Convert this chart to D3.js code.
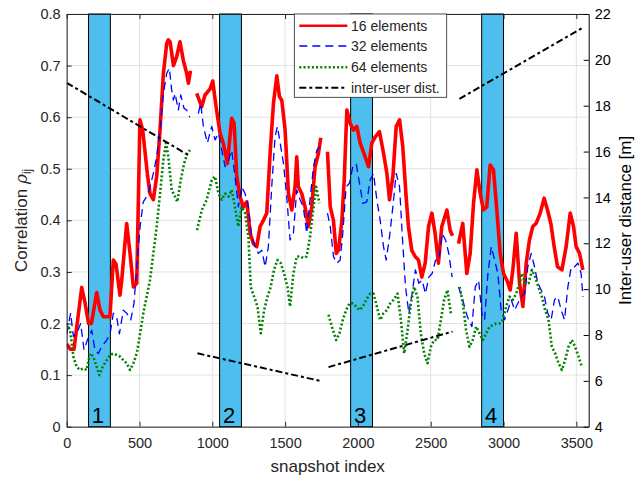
<!DOCTYPE html>
<html>
<head>
<meta charset="utf-8">
<script src="https://cdn.jsdelivr.net/npm/d3@7"></script>
<style>
  body { margin: 0; background: #fff; }
  svg { display: block; }
  text { font-family: "Liberation Sans", Arial, Helvetica, sans-serif; fill: #262626; }
</style>
</head>
<body>
<div id="vis"></div>
<script>
// snapshot ranges highlighted as bars, with their labels
const barRanges = [[150, 300], [1050, 1200], [1950, 2100], [2850, 3000]];
const barLabels = ["1", "2", "3", "4"];

// tick values
const xTicks = [0, 500, 1000, 1500, 2000, 2500, 3000, 3500];
const leftTicks = [0, 0.1, 0.2, 0.3, 0.4, 0.5, 0.6, 0.7, 0.8];
const rightTicks = [4, 6, 8, 10, 12, 14, 16, 18, 20, 22];

// correlation, 16 elements  [snapshot, rho]  (null = gap)
const rho16 = [
  [0,.16],[25,.15],[50,.15],[103,.27],[126,.24],[150,.20],[170,.20],[206,.26],[229,.226],[252,.213],
  [297,.213],[320,.323],[339,.315],[366,.255],[378,.284],[412,.394],[435,.336],[458,.271],[481,.278],
  [503,.595],[522,.575],[554,.49],[572,.452],[595,.44],[618,.485],[641,.575],[664,.685],[687,.743],
  [698,.75],[710,.746],[733,.70],[755,.717],[778,.746],[801,.71],[824,.685],[836,.666],[850,.69],
  null,
  [893,.646],[927,.62],[950,.643],[985,.655],[1003,.67],[1026,.62],[1053,.569],[1076,.549],[1104,.51],
  [1133,.598],[1150,.588],[1168,.485],[1190,.446],[1214,.426],[1237,.436],[1260,.375],[1282,.355],
  [1305,.349],[1328,.388],[1351,.40],[1374,.414],[1397,.53],[1420,.627],[1443,.68],[1461,.64],
  [1477,.633],[1500,.575],[1523,.452],[1546,.42],[1568,.465],[1580,.523],[1591,.465],[1614,.452],
  [1637,.426],[1660,.388],[1683,.426],[1706,.504],[1729,.53],[1745,.56],
  null,
  [1791,.533],[1810,.426],[1832,.40],[1851,.336],[1867,.342],[1890,.40],[1906,.478],[1924,.614],
  [1947,.588],[1970,.575],[1993,.582],[2015,.55],[2050,.523],[2073,.504],[2096,.55],[2119,.562],
  [2148,.572],[2176,.53],[2199,.491],[2217,.44],[2240,.485],[2263,.582],[2286,.595],[2308,.543],
  [2331,.446],[2347,.388],[2370,.342],[2393,.33],[2416,.323],[2439,.29],[2462,.317],[2485,.388],
  [2508,.414],[2530,.375],[2553,.317],[2576,.388],[2611,.42],[2634,.38],[2650,.37],
  null,
  [2691,.355],[2720,.394],[2748,.297],[2771,.336],[2794,.433],[2817,.498],[2840,.452],[2862,.42],
  [2885,.426],[2908,.507],[2931,.498],[2954,.42],[2977,.336],[3000,.297],[3023,.284],[3046,.265],
  [3064,.304],[3087,.375],[3110,.278],[3133,.233],[3156,.317],[3178,.362],[3201,.388],[3224,.394],
  [3252,.414],[3279,.443],[3302,.42],[3325,.394],[3348,.349],[3371,.31],[3401,.304],[3430,.349],
  [3458,.414],[3481,.388],[3499,.349],[3522,.336],[3545,.304]
];

// correlation, 32 elements
const rho32 = [
  [0,.18],[27,.22],[46,.175],[68,.18],[96,.20],[119,.149],[142,.168],[172,.187],[194,.149],[217,.142],
  [240,.155],[275,.168],[298,.18],[320,.22],[343,.213],[362,.18],[389,.226],[412,.22],[440,.207],
  [462,.239],[485,.323],[504,.388],[526,.436],[549,.446],[572,.465],[595,.491],[618,.523],[641,.575],
  [664,.646],[687,.685],[705,.695],[721,.653],[733,.633],[744,.646],[767,.614],[783,.643],[806,.617],
  [824,.614],[845,.60],
  null,
  [904,.607],[920,.627],[939,.582],[966,.55],[996,.582],[1019,.556],[1042,.569],[1065,.536],[1088,.504],
  [1111,.517],[1133,.536],[1156,.485],[1179,.426],[1202,.465],[1225,.452],[1248,.426],[1271,.368],
  [1294,.349],[1317,.336],[1340,.342],[1363,.31],[1385,.349],[1408,.465],[1431,.562],[1447,.582],
  [1466,.55],[1489,.51],[1511,.446],[1534,.362],[1557,.375],[1580,.459],[1603,.44],[1625,.426],
  [1648,.375],[1671,.44],[1695,.504],[1718,.536],[1740,.543],
  null,
  [1791,.414],[1810,.388],[1832,.33],[1855,.317],[1878,.323],[1896,.375],[1919,.465],[1942,.472],
  [1965,.504],[1988,.51],[2011,.472],[2034,.433],[2061,.436],[2084,.478],[2107,.491],[2130,.44],
  [2153,.40],[2176,.349],[2194,.323],[2217,.368],[2240,.426],[2263,.491],[2286,.465],[2308,.355],
  [2327,.271],[2350,.22],[2372,.258],[2395,.304],[2418,.278],[2441,.284],[2464,.258],[2487,.29],
  [2510,.297],[2533,.323],[2556,.323],[2579,.375],[2602,.362],[2624,.336],[2647,.29],
  null,
  [2691,.271],[2714,.252],[2737,.226],[2760,.207],[2783,.194],[2806,.271],[2829,.284],[2851,.22],
  [2870,.207],[2893,.297],[2916,.349],[2939,.323],[2961,.297],[2984,.226],[3007,.207],[3030,.226],
  [3053,.246],[3076,.226],[3098,.239],[3121,.252],[3145,.258],[3167,.31],[3190,.336],[3213,.31],
  [3236,.278],[3259,.265],[3281,.252],[3304,.22],[3327,.207],[3350,.246],[3373,.252],[3396,.226],
  [3419,.207],[3442,.271],[3465,.31],[3488,.31],[3511,.317],[3533,.297],[3545,.252]
];

// correlation, 64 elements
const rho64 = [
  [0,.20],[23,.187],[46,.136],[68,.116],[91,.11],[114,.113],[137,.11],[160,.142],[183,.136],[206,.116],
  [224,.10],[247,.116],[275,.129],[298,.139],[320,.142],[343,.139],[366,.136],[389,.129],[412,.123],
  [435,.11],[458,.123],[481,.142],[504,.18],[526,.22],[549,.252],[572,.284],[595,.336],[618,.388],
  [641,.452],[664,.517],[682,.55],[698,.523],[721,.459],[744,.446],[760,.436],[783,.478],[806,.51],
  [829,.53],[847,.536],
  null,
  [895,.381],[928,.42],[962,.44],[996,.478],[1019,.485],[1042,.452],[1065,.44],[1088,.452],[1111,.446],
  [1133,.459],[1156,.426],[1179,.388],[1202,.426],[1225,.414],[1248,.368],[1264,.271],[1287,.252],
  [1310,.233],[1333,.181],[1356,.226],[1379,.252],[1401,.271],[1424,.304],[1447,.323],[1470,.317],
  [1493,.297],[1516,.271],[1534,.233],[1557,.297],[1580,.33],[1603,.33],[1625,.327],[1648,.33],
  [1671,.368],[1695,.426],[1713,.465],[1736,.433],
  null,
  [1798,.217],[1821,.194],[1851,.168],[1873,.181],[1896,.207],[1919,.226],[1942,.239],[1965,.239],
  [1988,.233],[2011,.226],[2034,.233],[2057,.246],[2084,.258],[2107,.258],[2130,.233],[2153,.207],
  [2176,.22],[2199,.226],[2222,.239],[2245,.246],[2272,.258],[2295,.207],[2318,.142],[2341,.187],
  [2363,.239],[2386,.271],[2409,.252],[2432,.181],[2455,.142],[2478,.123],[2501,.155],[2524,.168],
  [2547,.168],[2570,.207],[2592,.246],[2615,.265],[2638,.22],
  null,
  [2698,.271],[2721,.239],[2743,.187],[2766,.155],[2789,.168],[2812,.194],[2835,.181],[2858,.168],
  [2881,.181],[2904,.194],[2927,.197],[2950,.20],[2972,.20],[2995,.207],[3018,.233],[3041,.252],
  [3064,.246],[3087,.258],[3110,.278],[3126,.297],[3149,.278],[3172,.278],[3195,.304],[3218,.29],
  [3240,.271],[3263,.252],[3286,.226],[3309,.207],[3332,.155],[3355,.142],[3378,.123],[3401,.11],
  [3423,.129],[3446,.155],[3469,.168],[3492,.155],[3515,.136],[3538,.116]
];

// inter-user distance [m]
const dist = [
  [0,19.0],[847,15.8],
  null,
  [898,7.2],[1740,6.0],
  null,
  [1798,6.6],[2650,8.15],
  null,
  [2697,18.3],[3545,21.4]
];

const legendNames = ["16 elements", "32 elements", "64 elements", "inter-user dist."];

var W = 639, H = 477;
var pL = 66.7, pR = 588.7, pT = 14, pB = 426.7;
var axisColor = "#262626";

var svg = d3.select("#vis").append("svg").attr("width", W).attr("height", H);

var x = d3.scaleLinear().domain([0, 3585]).range([pL, pR]);
var yL = d3.scaleLinear().domain([0, 0.8]).range([pB, pT]);
var yR = d3.scaleLinear().domain([4, 22]).range([pB, pT]);

svg.append("defs").append("clipPath").attr("id", "plot")
  .append("rect").attr("x", pL).attr("y", pT).attr("width", pR - pL).attr("height", pB - pT);

// grid
var grid = svg.append("g").attr("stroke", "#e2e2e2").attr("stroke-width", 1);
xTicks.forEach(function (t) {
  grid.append("line").attr("x1", x(t)).attr("x2", x(t)).attr("y1", pT).attr("y2", pB);
});
leftTicks.forEach(function (t) {
  grid.append("line").attr("x1", pL).attr("x2", pR).attr("y1", yL(t)).attr("y2", yL(t));
});

// highlighted snapshot bars
svg.append("g").selectAll("rect").data(barRanges).join("rect")
  .attr("x", d => x(d[0]))
  .attr("y", yL(0.8))
  .attr("width", d => x(d[1]) - x(d[0]))
  .attr("height", yL(0) - yL(0.8))
  .attr("fill", "#4DBEEE")
  .attr("stroke", "#000")
  .attr("stroke-width", 1);

svg.append("g").selectAll("text").data(barRanges).join("text")
  .attr("x", d => x((d[0] + d[1]) / 2) - 1.5)
  .attr("y", pB - 3.5)
  .attr("text-anchor", "middle")
  .style("font-size", "22px")
  .style("fill", "#000")
  .text((d, i) => barLabels[i]);

// series
var series = [
  { data: rho16, color: "#ff0000", width: 3.6, dash: null, y: yL },
  { data: rho32, color: "#0000ff", width: 1.3, dash: "8,5", y: yL },
  { data: rho64, color: "#008000", width: 2.6, dash: "2,2.2", y: yL },
  { data: dist, color: "#000000", width: 2, dash: "7,3,3,3", y: yR }
];

var plot = svg.append("g").attr("clip-path", "url(#plot)");
series.forEach(function (s) {
  var line = d3.line()
    .defined(d => d !== null)
    .x(d => x(d[0]))
    .y(d => s.y(d[1]));
  plot.append("path")
    .attr("d", line(s.data))
    .attr("fill", "none")
    .attr("stroke", s.color)
    .attr("stroke-width", s.width)
    .attr("stroke-dasharray", s.dash)
    .attr("stroke-linejoin", "round");
});

// axes
var gx = svg.append("g").attr("transform", "translate(0," + pB + ")")
  .call(d3.axisBottom(x).tickValues(xTicks).tickSizeInner(-5).tickSizeOuter(0).tickPadding(8)
    .tickFormat(d3.format("d")));
var gxTop = svg.append("g").attr("transform", "translate(0," + pT + ")")
  .call(d3.axisTop(x).tickValues(xTicks).tickSizeInner(-5).tickSizeOuter(0).tickFormat(""));

var gl = svg.append("g").attr("transform", "translate(" + pL + ",0)")
  .call(d3.axisLeft(yL).tickValues(leftTicks).tickSizeInner(-5).tickSizeOuter(0).tickPadding(6)
    .tickFormat(d3.format("~g")));

var gr = svg.append("g").attr("transform", "translate(" + pR + ",0)")
  .call(d3.axisRight(yR).tickValues(rightTicks).tickSizeInner(-5).tickSizeOuter(0).tickPadding(6));

[gx, gxTop, gl].forEach(function (g) {
  g.selectAll("path, line").attr("stroke", axisColor);
  g.selectAll("text").style("font-size", "14.5px").style("fill", axisColor);
  g.attr("font-family", null);
});
gr.selectAll("path, line").attr("stroke", "#000");
gr.selectAll("text").style("font-size", "14.5px").style("fill", "#000");
gr.attr("font-family", null);
gx.selectAll("text").attr("dy", "0.9em");

// axis labels
svg.append("text")
  .attr("x", (pL + pR) / 2).attr("y", 472)
  .attr("text-anchor", "middle")
  .style("font-size", "17px")
  .text("snapshot index");

var ylab = svg.append("text")
  .attr("transform", "translate(27," + ((pT + pB) / 2) + ") rotate(-90)")
  .attr("text-anchor", "middle")
  .style("font-size", "17px");
ylab.append("tspan").text("Correlation ");
ylab.append("tspan").style("font-style", "italic").style("font-family", "'DejaVu Serif', serif").text("ρ");
ylab.append("tspan").attr("dy", 4).style("font-size", "12px").text("ij");

svg.append("text")
  .attr("transform", "translate(631," + ((pT + pB) / 2) + ") rotate(-90)")
  .attr("text-anchor", "middle")
  .style("font-size", "17px")
  .style("fill", "#000")
  .text("Inter-user distance [m]");

// legend
var lg = svg.append("g");
lg.append("rect")
  .attr("x", 294.3).attr("y", 14).attr("width", 152.4).attr("height", 83.3)
  .attr("fill", "#fff").attr("stroke", axisColor).attr("stroke-width", 0.8);
var rowY = [25.7, 46, 67.3, 87.7];
series.forEach(function (s, i) {
  lg.append("line")
    .attr("x1", 299.3).attr("x2", 347.3).attr("y1", rowY[i]).attr("y2", rowY[i])
    .attr("stroke", s.color)
    .attr("stroke-width", i === 0 ? 2.4 : s.width)
    .attr("stroke-dasharray", s.dash);
  lg.append("text")
    .attr("x", 351).attr("y", rowY[i]).attr("dy", "0.35em")
    .style("font-size", "14px")
    .text(legendNames[i]);
});
</script>
</body>
</html>
